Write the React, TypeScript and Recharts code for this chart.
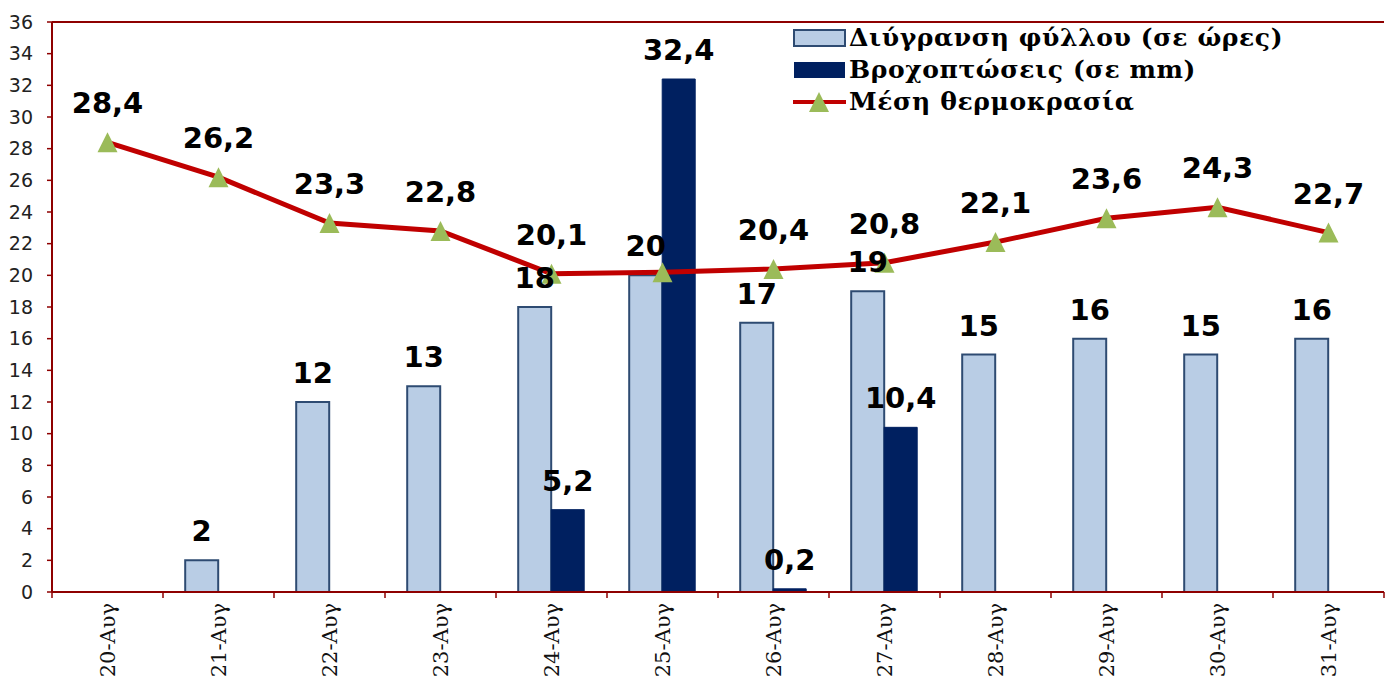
import React from 'react';
import { ComposedChart, Bar, Line, XAxis, YAxis, CartesianGrid, LabelList, Legend } from 'recharts';

const categories = ['20-Αυγ', '21-Αυγ', '22-Αυγ', '23-Αυγ', '24-Αυγ', '25-Αυγ', '26-Αυγ', '27-Αυγ', '28-Αυγ', '29-Αυγ', '30-Αυγ', '31-Αυγ'];
const leafWetness: (number | null)[] = [null, 2, 12, 13, 18, 20, 17, 19, 15, 16, 15, 16];
const rainfall: (number | null)[] = [null, null, null, null, 5.2, 32.4, 0.2, 10.4, null, null, null, null];
const meanTemp: number[] = [28.4, 26.2, 23.3, 22.8, 20.1, 20.2, 20.4, 20.8, 22.1, 23.6, 24.3, 22.7];
// temperature label not shown in the reference (hidden behind the rain bar)
const hiddenTempLabels = ['25-Αυγ'];
const yTicks = [0, 2, 4, 6, 8, 10, 12, 14, 16, 18, 20, 22, 24, 26, 28, 30, 32, 34, 36];

const seriesNames = ['Διύγρανση φύλλου (σε ώρες)', 'Βροχοπτώσεις (σε mm)', 'Μέση θερμοκρασία'];

const data = categories.map((c, i) => ({ cat: c, wet: leafWetness[i], rain: rainfall[i], temp: meanTemp[i] }));

const W = 1389;
const H = 677;
const LEFT = 52;
const RIGHT = 5;
const BAND = (W - LEFT - RIGHT) / categories.length;
const RED = '#8E0000';
const LIGHT = '#B9CDE5';
const LIGHT_STROKE = '#2E4B72';
const NAVY = '#002060';
const LINE_RED = '#C00000';
const GREEN = '#9BBB59';

const fmt = (v: any) => (v === null || v === undefined ? '' : String(v).replace('.', ','));
const labelStyle = { fontFamily: 'DejaVu Sans', fontWeight: 700, fontSize: 29, fill: '#000' } as const;

const XTick = (props: any) => {
  const { x, y, payload, index } = props;
  const axisY = y - 12;
  return (
    <g>
      <line x1={x - BAND / 2} x2={x - BAND / 2} y1={axisY} y2={axisY + 6} stroke={RED} strokeWidth={1.5} />
      {index === categories.length - 1 && (
        <line x1={x + BAND / 2} x2={x + BAND / 2} y1={axisY} y2={axisY + 6} stroke={RED} strokeWidth={1.5} />
      )}
      <text
        x={x}
        y={axisY + 11}
        transform={`rotate(-90, ${x}, ${axisY + 11})`}
        textAnchor="end"
        dy="0.36em"
        fontFamily="DejaVu Serif"
        fontSize={21}
        fill="#111"
      >
        {payload.value}
      </text>
    </g>
  );
};

const Triangle = (props: any) => {
  const { cx, cy } = props;
  if (cx == null || cy == null) return null;
  return <path d={`M${cx},${cy - 10} L${cx + 10},${cy + 10} L${cx - 10},${cy + 10} Z`} fill={GREEN} stroke="none" />;
};

const TempLabel = (props: any) => {
  const { x, y, width, value, index } = props;
  if (hiddenTempLabels.includes(categories[index])) return null;
  const cx = x + (width || 0) / 2;
  return (
    <text x={cx} y={y - 29} textAnchor="middle" style={labelStyle}>
      {fmt(value)}
    </text>
  );
};

const renderLegend = () => {
  const rowH = 32;
  const textStyle: React.CSSProperties = {
    fontFamily: 'DejaVu Serif',
    fontWeight: 700,
    fontSize: 25,
    letterSpacing: 0.6,
    color: '#000',
    whiteSpace: 'nowrap',
    lineHeight: `${rowH}px`,
  };
  return (
    <div>
      {seriesNames.map((n, i) => (
        <div key={n} style={{ display: 'flex', alignItems: 'center', height: rowH }}>
          <svg width={56} height={rowH} style={{ flex: 'none' }}>
            {i === 0 && <rect x={1} y={8} width={51} height={16} fill={LIGHT} stroke={LIGHT_STROKE} strokeWidth={2} />}
            {i === 1 && <rect x={1} y={8} width={51} height={16} fill={NAVY} />}
            {i === 2 && (
              <g>
                <line x1={0} x2={53} y1={16} y2={16} stroke={LINE_RED} strokeWidth={4} />
                <path d={`M26,6 L36,26 L16,26 Z`} fill={GREEN} />
              </g>
            )}
          </svg>
          <span style={textStyle}>{n}</span>
        </div>
      ))}
    </div>
  );
};

export default function App() {
  return (
    <div style={{ position: 'absolute', left: 0, top: 0, width: W, height: H, background: '#fff' }}>
      <ComposedChart
        width={W}
        height={H}
        data={data}
        margin={{ top: 22, right: RIGHT, bottom: 0, left: 0 }}
        barGap={0}
        barCategoryGap="20%"
      >
        <CartesianGrid vertical={false} stroke={RED} strokeWidth={2} />
        <XAxis
          dataKey="cat"
          height={85}
          axisLine={{ stroke: RED, strokeWidth: 2 }}
          tickLine={false}
          tickSize={6}
          tickMargin={6}
          interval={0}
          tick={<XTick />}
        />
        <YAxis
          yAxisId="l"
          width={LEFT}
          domain={[0, 36]}
          ticks={yTicks}
          interval={0}
          axisLine={{ stroke: RED, strokeWidth: 2 }}
          tickLine={{ stroke: RED, strokeWidth: 1.5 }}
          tickSize={5}
          tickMargin={14}
          tick={{ fontFamily: 'DejaVu Sans', fontSize: 19, fill: '#222' }}
        />
        <YAxis
          yAxisId="r"
          orientation="right"
          width={0}
          domain={[0, 36]}
          tick={false}
          tickLine={false}
          axisLine={{ stroke: RED, strokeWidth: 2 }}
        />
        <Legend
          layout="horizontal"
          verticalAlign="middle"
          align="center"
          content={renderLegend}
          wrapperStyle={{ position: 'absolute', left: 793, top: 22, width: 580 }}
        />
        <Bar yAxisId="l" dataKey="wet" name={seriesNames[0]} fill={LIGHT} stroke={LIGHT_STROKE} strokeWidth={2} isAnimationActive={false}>
          <LabelList dataKey="wet" position="top" offset={19} formatter={fmt} style={labelStyle} />
        </Bar>
        <Bar yAxisId="l" dataKey="rain" name={seriesNames[1]} fill={NAVY} stroke={NAVY} strokeWidth={1} isAnimationActive={false}>
          <LabelList dataKey="rain" position="top" offset={19} formatter={fmt} style={labelStyle} />
        </Bar>
        <Line
          yAxisId="l"
          dataKey="temp"
          name={seriesNames[2]}
          stroke={LINE_RED}
          strokeWidth={5}
          dot={<Triangle />}
          activeDot={false}
          isAnimationActive={false}
        >
          <LabelList dataKey="temp" content={<TempLabel />} />
        </Line>
      </ComposedChart>
    </div>
  );
}
